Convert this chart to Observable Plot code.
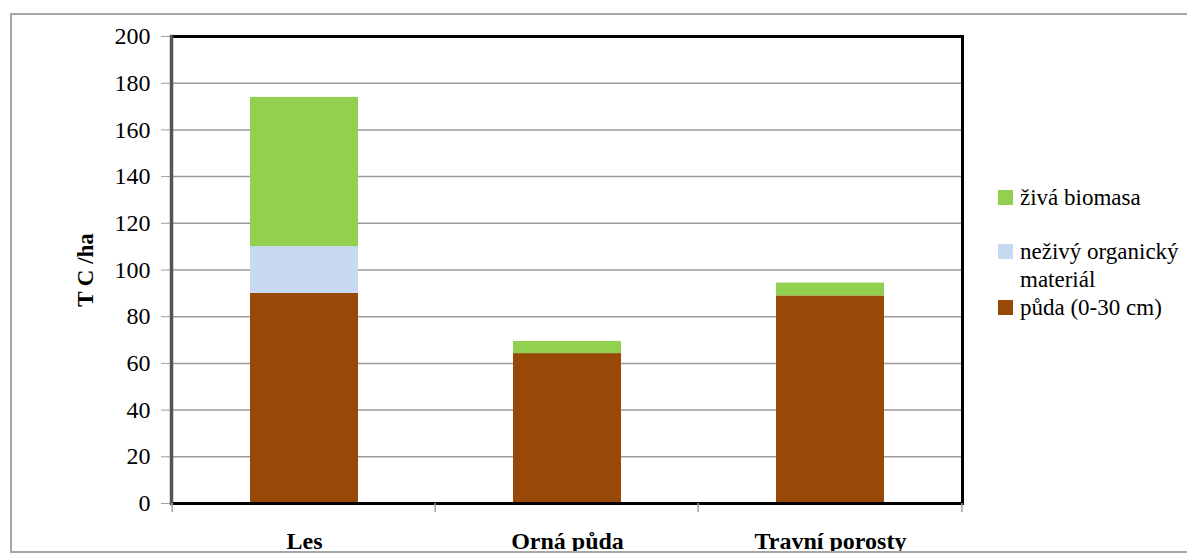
<!DOCTYPE html>
<html>
<head>
<meta charset="utf-8">
<script src="https://cdn.jsdelivr.net/npm/d3@7"></script>
<script src="https://cdn.jsdelivr.net/npm/@observablehq/plot@0.6"></script>
<style>
  html, body { margin: 0; padding: 0; background: #fff; }
  body { width: 1187px; height: 554px; overflow: hidden; position: relative; font-family: 'Liberation Serif', serif; }
  #frame { position: absolute; left: 10px; top: 13px; width: 1200px; height: 536px; border: 2px solid #a6a6a6; overflow: hidden; }
  #chart { position: absolute; left: -12px; top: -15px; }
  #legend { position: absolute; left: 0; top: 0; }
</style>
</head>
<body>
<div id="frame"><div id="chart"></div></div>
<svg id="legend" width="1187" height="554"></svg>
<script>
const categories = ["Les", "Orná půda", "Travní porosty"];
const seriesNames = ["půda (0-30 cm)", "neživý organický materiál", "živá biomasa"];
const soil = [90, 64.2, 88.9];
const deadOrganic = [20, 0, 0];
const liveBiomass = [63.9, 5.2, 5.5];
const yTicks = [0, 20, 40, 60, 80, 100, 120, 140, 160, 180, 200];
const colors = ["#984807", "#C6D9F1", "#92D050"];
const legendOrder = ["živá biomasa", "neživý organický materiál", "půda (0-30 cm)"];
const legendLines = [["živá biomasa"], ["neživý organický", "materiál"], ["půda (0-30 cm)"]];

const seriesValues = [soil, deadOrganic, liveBiomass];
const rows = [];
seriesNames.forEach((s, si) => {
  categories.forEach((c, ci) => {
    rows.push({category: c, series: s, value: seriesValues[si][ci]});
  });
});

const W = 1187, H = 554;
const mL = 171, mR = 225, mT = 36, mB = 51;
const step = (W - mL - mR) / categories.length;
const FONT = "'Liberation Serif', serif";

const chart = Plot.plot({
  width: W,
  height: H,
  marginLeft: mL,
  marginRight: mR,
  marginTop: mT,
  marginBottom: mB,
  style: {background: "transparent", fontSize: "24px", color: "#000", fontFamily: FONT},
  x: {domain: categories, paddingInner: 0.59, paddingOuter: 0.295, label: null},
  y: {domain: [0, 200], label: null},
  color: {domain: seriesNames, range: colors},
  marks: [
    Plot.gridY(yTicks, {stroke: "#9a9a9a", strokeOpacity: 1, strokeWidth: 1.5}),
    Plot.axisY(yTicks, {tickSize: 10, tickPadding: 11, stroke: "#a0a0a0", fontSize: 24, label: null}),
    Plot.text(["T C /ha"], {frameAnchor: "left", dx: -86, rotate: -90, fontSize: 23, fontWeight: "bold", textAnchor: "middle"}),
    Plot.axisX({tickSize: 0, tickPadding: 28, fontSize: 24, fontWeight: "bold", label: null}),
    Plot.barY(rows, Plot.stackY({order: seriesNames, x: "category", y: "value", fill: "series"})),
    Plot.frame({stroke: "#000", strokeWidth: 3}),
    Plot.frame({anchor: "left", stroke: "#555", strokeWidth: 3.5})
  ]
});
document.getElementById("chart").appendChild(chart);

// x-axis boundary tick marks below the baseline, positioned from the x and y scales
const xs = chart.scale("x");
const ys = chart.scale("y");
const svgNS = "http://www.w3.org/2000/svg";
const g = document.createElementNS(svgNS, "g");
const bounds = categories.map(c => xs.apply(c) - (step - xs.bandwidth) / 2);
bounds.push(xs.apply(categories[categories.length - 1]) + xs.bandwidth + (step - xs.bandwidth) / 2);
bounds.forEach(bx => {
  const l = document.createElementNS(svgNS, "line");
  l.setAttribute("x1", bx); l.setAttribute("x2", bx);
  l.setAttribute("y1", ys.apply(0)); l.setAttribute("y2", ys.apply(0) + 9);
  l.setAttribute("stroke", "#a0a0a0"); l.setAttribute("stroke-width", 1.5);
  g.appendChild(l);
});
chart.appendChild(g);

// legend (right side)
const legendSvg = d3.select("#legend");
const legendTops = [190, 244, 300];
const colorOf = name => colors[seriesNames.indexOf(name)];
legendOrder.forEach((name, i) => {
  const top = legendTops[i];
  legendSvg.append("rect").attr("x", 998).attr("y", top).attr("width", 15).attr("height", 15).attr("fill", colorOf(name));
  legendLines[i].forEach((ln, j) => {
    legendSvg.append("text")
      .attr("x", 1020).attr("y", top + 15 + j * 28)
      .attr("font-family", FONT).attr("font-size", 23).attr("fill", "#000")
      .text(ln);
  });
});
</script>
</body>
</html>
